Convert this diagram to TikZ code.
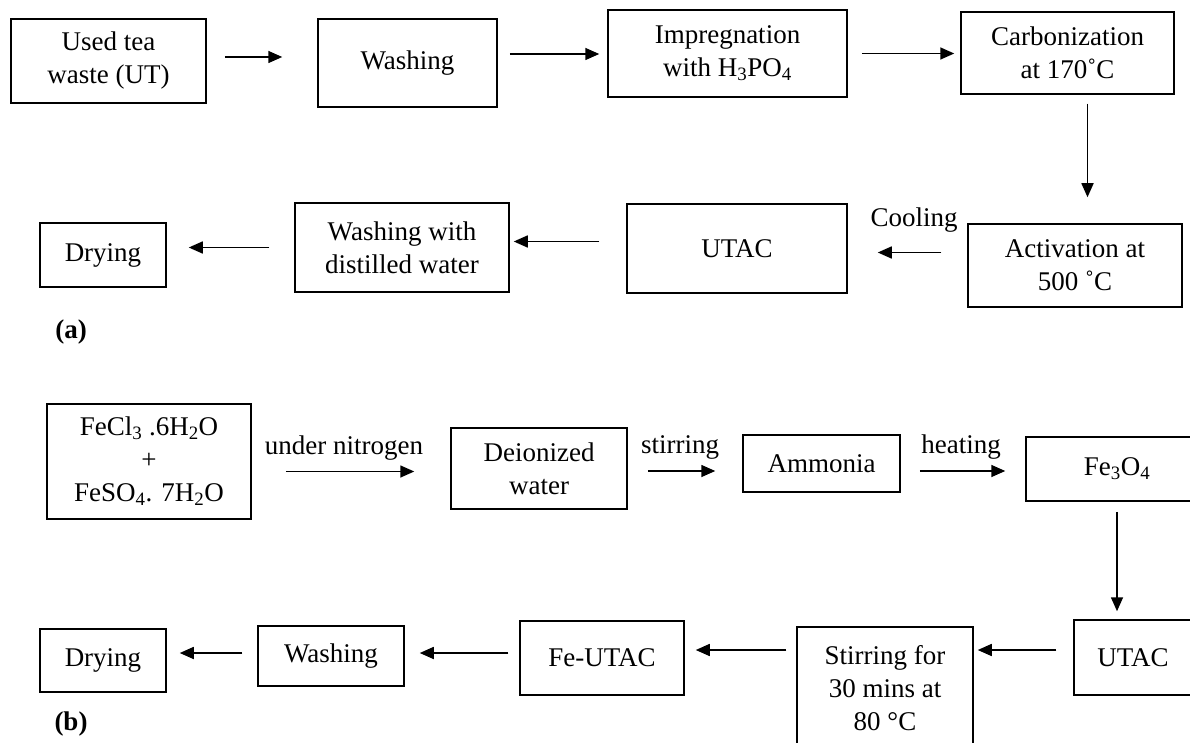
\documentclass[tikz,border=0pt]{standalone}
\usepackage{fontspec}
\setmainfont{Liberation Serif}
\usetikzlibrary{arrows.meta}

\begin{document}
\begin{tikzpicture}[x=1pt,y=-1pt,
  font=\fontsize{27}{33}\selectfont,
  box/.style={draw,line width=1.5pt,inner sep=0pt,align=center},
  arr/.style={line width=1.6pt,-{Triangle[length=14pt,width=12pt]}}]
\useasboundingbox (0,0) rectangle (1190,743);
\clip (0,0) rectangle (1190,743);

%%% (a) activated carbon from used tea %%%

  \node (ut) at (108.5,61) [box,minimum width=195pt,minimum height=84pt] {Used tea\\waste (UT)};
  \node (wash) at (407.5,63) [box,minimum width=179pt,minimum height=88pt] {Washing};
  \node (impreg) at (727.5,53.5) [box,minimum width=239pt,minimum height=87pt] {Impregnation\\with H\textsubscript{3}PO\textsubscript{4}};
  \node (carb) at (1067.5,53) [box,minimum width=213pt,minimum height=82pt] {Carbonization\\at 170˚C};
  \node (activ) at (1075,265.5) [box,minimum width=214pt,minimum height=83pt] {Activation at\\500 ˚C};
  \node (utac) at (737,248.5) [box,minimum width=220pt,minimum height=89pt] {UTAC};
  \node (washdw) at (402,247.5) [box,minimum width=214pt,minimum height=89pt] {Washing with\\distilled water};
  \node (dry) at (103,255) [box,minimum width=126pt,minimum height=64pt] {Drying};

  \node (cool) at (914,220) {Cooling};
  \node (lbla) at (71,332) {\textbf{(a)}};

\draw[arr,shorten <=18pt,shorten >=35pt]
   ([yshift=4pt]ut.east) -- ([yshift=4pt]ut.east -| wash.west);
\draw[arr,shorten <=12pt,shorten >=8pt]
   ([yshift=9pt]wash.east) -- ([yshift=9pt]wash.east -| impreg.west);
\draw[arr,shorten <=14pt,shorten >=6pt]
   (impreg.east) -- (impreg.east -| carb.west);
\draw[arr,shorten <=9pt,shorten >=26pt]
   ([xshift=20pt]carb.south) -- ([xshift=20pt]carb.south |- activ.north);
\draw[arr,shorten <=26pt,shorten >=30pt]
   ([yshift=13pt]activ.west) -- ([yshift=13pt]activ.west -| utac.east);
\draw[arr,shorten <=27pt,shorten >=4pt]
   ([yshift=7pt]utac.west) -- ([yshift=7pt]utac.west -| washdw.east);
\draw[arr,shorten <=25pt,shorten >=22pt]
   (washdw.west) -- (washdw.west -| dry.east);

%%% (b) magnetic Fe-UTAC %%%

  \node (salts) at (149,461.5) [box,minimum width=204pt,minimum height=115pt] {FeCl\textsubscript{3} .6H\textsubscript{2}O\\+\\FeSO\textsubscript{4}. 7H\textsubscript{2}O};
  \node (deion) at (539,468.5) [box,minimum width=176pt,minimum height=81pt] {Deionized\\water};
  \node (ammon) at (821.5,463.5) [box,minimum width=157pt,minimum height=57pt] {Ammonia};
  \node (magn) at (1117,469) [box,minimum width=182pt,minimum height=64pt] {Fe\textsubscript{3}O\textsubscript{4}};
  \node (utacb) at (1133,657.5) [box,minimum width=118pt,minimum height=75pt] {UTAC};
  \node (stir) at (885,688) [box,minimum width=176pt,minimum height=122pt] {Stirring for\\30 mins at\\80 °C};
  \node (feutac) at (602,658) [box,minimum width=164pt,minimum height=74pt] {Fe-UTAC};
  \node (washb) at (331,656) [box,minimum width=146pt,minimum height=60pt] {Washing};
  \node (dryb) at (103,660.5) [box,minimum width=126pt,minimum height=63pt] {Drying};

  \node (nitro) at (344,448) {under nitrogen};
  \node (stirl) at (680,447) {stirring};
  \node (heatl) at (961,447) {heating};
  \node (lblb) at (71,724) {\textbf{(b)}};

\draw[arr,shorten <=34pt,shorten >=36pt]
   ([yshift=-10pt]salts.east) -- ([yshift=-10pt]salts.east -| deion.west);
\draw[arr,shorten <=20pt,shorten >=27pt]
   ([yshift=-2.5pt]deion.east) -- ([yshift=-2.5pt]deion.east -| ammon.west);
\draw[arr,shorten <=19pt,shorten >=20pt]
   ([yshift=-7.5pt]ammon.east) -- ([yshift=-7.5pt]ammon.east -| magn.west);
\draw[arr,shorten <=10pt,shorten >=8pt]
   (magn.south) -- (magn.south |- utacb.north);
\draw[arr,shorten <=17pt,shorten >=4pt]
   ([yshift=7.5pt]utacb.west) -- ([yshift=7.5pt]utacb.west -| stir.east);
\draw[arr,shorten <=10pt,shorten >=11pt]
   ([yshift=8pt]feutac.east -| stir.west) -- ([yshift=8pt]feutac.east);
\draw[arr,shorten <=11pt,shorten >=15pt]
   ([yshift=5pt]feutac.west) -- ([yshift=5pt]feutac.west -| washb.east);
\draw[arr,shorten <=15pt,shorten >=13pt]
   ([yshift=3pt]washb.west) -- ([yshift=3pt]washb.west -| dryb.east);
\end{tikzpicture}
\end{document}
